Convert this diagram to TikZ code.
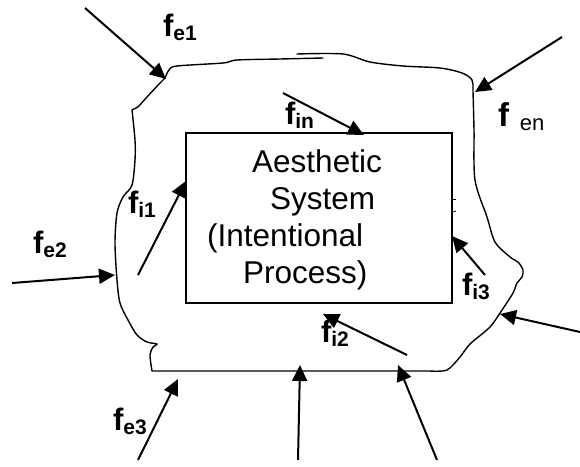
\documentclass[tikz,border=0pt]{standalone}
\usepackage{fontspec}
\setmainfont{Liberation Sans}
\usetikzlibrary{arrows.meta}

% label helpers: bold f with a lowered subscript
\newcommand{\flab}[1]{{\fontsize{31}{31}\selectfont\bfseries f}{\fontsize{21}{21}\selectfont\bfseries\raisebox{-4pt}{#1}}}

\begin{document}
\begin{tikzpicture}[x=1pt,y=-1pt,
  force/.style={line width=2pt,-{Triangle[length=16pt,width=15pt]}},
  edge/.style={line width=1.4pt,line join=round,line cap=round},
  lab/.style={anchor=base west,inner sep=0pt,outer sep=0pt},
  boxtext/.style={anchor=base west,inner sep=0pt,font=\fontsize{31.5}{36}\selectfont}]
\useasboundingbox (0,0) rectangle (580,466);

% the aesthetic system box
\node[draw,line width=1.5pt,minimum width=266pt,minimum height=170pt,inner sep=0pt] (sys) at (319,218) {};
\node[boxtext] (t1) at (252,172) {Aesthetic};
\node[boxtext] (t2) at (270,209) {System};
\node[boxtext] (t3) at (207,246) {(Intentional};
\node[boxtext] (t4) at (243,283) {Process)};

% small ticks on the right side of the box
\draw[line width=0.8pt] (452,199) -- (456,199);
\draw[line width=0.8pt] (452,212) -- (456,211);

% hand-drawn environment boundary
\draw[edge] plot[smooth,tension=0.5] coordinates {(165,78)(169,70)(177,66)(223,63)(237,60)(280,59)(323,58)};
\draw[edge] plot[smooth,tension=0.5] coordinates {(297,54)(343,54)(370,62)(403,66)(440,68)(462,73)(472,80)(473,92)(474,130)(475,180)(487,217)(495,242)(510,257)(518,262)(523,270)(522,277)(517,283)(513,293)(502,310)(490,327)(470,344)(460,357)(447,370)(430,371)}
  -- (152,371)
  plot[smooth,tension=0.5] coordinates {(152,371)(150,355)(153,347)(157,344)(147,342)(137,335)(128,320)(120,303)(117,280)(115,243)(117,213)(123,197)(132,185)(135,160)(135,140)(132,110)}
  -- (138,107) -- (147,97) -- (160,83) -- (165,78);

% arrow end points
\coordinate (e1s) at (85,8);    \coordinate (e1t) at (166,79);
\coordinate (ens) at (562,37);  \coordinate (ent) at (475,92);
\coordinate (ins) at (283,93);  \coordinate (int) at (364,135);
\coordinate (i1s) at (138,275); \coordinate (i1t) at (186,181);
\coordinate (e2s) at (12,283);  \coordinate (e2t) at (115,275);
\coordinate (i3s) at (485,275); \coordinate (i3t) at (452,236);
\coordinate (ers) at (580,332); \coordinate (ert) at (500,314);
\coordinate (i2s) at (407,355); \coordinate (i2t) at (323,314);
\coordinate (e3s) at (138,460); \coordinate (e3t) at (178,379);
\coordinate (b2s) at (298,460); \coordinate (b2t) at (300,365);
\coordinate (b3s) at (437,460); \coordinate (b3t) at (398,365);

\draw[force] (e1s) -- (e1t);
\draw[force] (ens) -- (ent);
\draw[force] (ins) -- (int);
\draw[force] (i1s) -- (i1t);
\draw[force] (e2s) -- (e2t);
\draw[force] (i3s) -- (i3t);
\draw[force] (ers) -- (ert);
\draw[force] (i2s) -- (i2t);
\draw[force] (e3s) -- (e3t);
\draw[force] (b2s) -- (b2t);
\draw[force] (b3s) -- (b3t);

% force labels
\node[lab] (le1) at (163,36) {\flab{e1}};
\node[lab] (lin) at (285,124) {\flab{in}};
\node[lab] (li1) at (128,213) {\flab{i1}};
\node[lab] (le2) at (33,253) {\flab{e2}};
\node[lab] (li3) at (462,295) {\flab{i3}};
\node[lab] (li2) at (321,342) {\flab{i2}};
\node[lab] (le3) at (113,430) {\flab{e3}};
\node[lab] (len) at (498,126) {{\fontsize{33}{33}\selectfont\bfseries f}\hspace{11pt}{\fontsize{22}{22}\selectfont\raisebox{-4pt}{en}}};
\end{tikzpicture}
\end{document}
